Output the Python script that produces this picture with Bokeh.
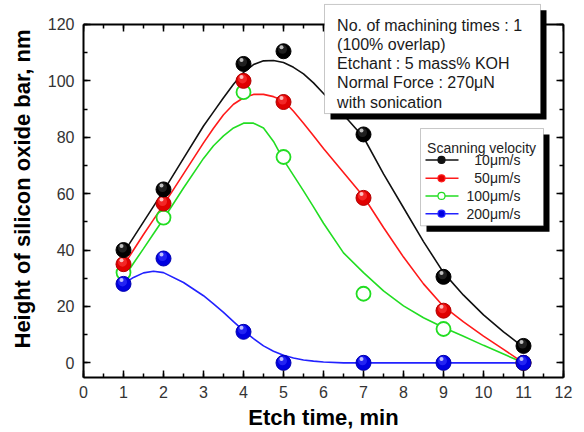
import math
from bokeh.plotting import figure
from bokeh.models import (Range1d, LinearAxis, FixedTicker, BoxAnnotation, Label,
                          ColumnDataSource)
from bokeh.transform import dodge
from bokeh.embed import file_html
from bokeh.resources import INLINE

# ---------------- data ----------------
etch_time = [1, 2, 4, 5, 7, 9, 11]
h_10 = [40, 61.5, 106, 110.5, 81, 30.5, 6]
h_50 = [35, 56.5, 100, 92.5, 58.5, 18.5, 0]
h_100 = [32, 51.5, 96, 73, 24.5, 12, 0]
h_200 = [28, 37, 11, 0, 0, 0, 0]

# fitted curves
fit_x = [1, 1.25, 1.5, 1.75, 2, 2.5, 3, 3.25, 3.5, 3.75, 4, 4.25, 4.5, 4.75, 5, 5.25, 5.5,
         5.75, 6, 6.5, 7, 7.5, 8, 8.5, 9, 9.5, 10, 10.5, 11]
fit_10 = [39, 44.5, 50, 55.5, 61, 72.5, 84, 89, 94, 98.8, 103, 105.8, 107.1, 107.2, 106.5,
          104.8, 102.5, 99.3, 95.5, 88, 80, 67, 55, 43, 32, 24, 17, 11, 5.5]
fit_50 = [34.5, 40, 45.5, 50.8, 56, 67, 78, 83.2, 88, 91.7, 94, 95.2, 95.2, 94.4, 93,
          89.2, 85, 80.5, 76, 67.5, 59, 48, 37.5, 28, 20, 14.5, 9.5, 4.8, 0]
fit_100 = [30, 35.3, 40.5, 45.8, 51, 62, 72.5, 77, 80.5, 83.3, 85, 85, 83.3, 78.5, 72,
           66.5, 61, 55.3, 49.5, 39, 32, 25.5, 20.2, 16, 12.5, 9.4, 6.2, 3.1, 0]
fit_200 = [28, 30.3, 31.9, 32.5, 32, 28.5, 23.8, 20.9, 17.9, 14.6, 11.4, 8.6, 6, 4.1, 2.7,
           1.7, 1, 0.6, 0.3, 0, 0, 0, 0, 0, 0, 0, 0, 0, 0]

x_ticks = list(range(0, 13))
y_ticks = [0, 20, 40, 60, 80, 100, 120]
x_minor = [i * 0.5 for i in range(0, 25)]
y_minor = list(range(0, 121, 10))

series_labels = ["10\u03bcm/s", "50\u03bcm/s", "100\u03bcm/s", "200\u03bcm/s"]
info_lines = ["No. of machining times : 1", "(100% overlap)", "Etchant : 5 mass% KOH",
              "Normal Force : 270\u03bcN", "with sonication"]

FONT = "Liberation Sans"
Y_LOW, Y_TOP_FRAME = -5.2, 128.5

p = figure(width=584, height=432, output_backend="svg", toolbar_location=None,
           x_range=Range1d(x_ticks[0], x_ticks[-1]), y_range=Range1d(Y_LOW, Y_TOP_FRAME),
           min_border_left=83, min_border_right=21, min_border_top=0, min_border_bottom=55)
p.background_fill_color = "white"
p.border_fill_color = "white"
p.xgrid.visible = False
p.ygrid.visible = False
p.outline_line_color = None


def style_axis(ax, ticks, minor, show_labels=True):
    ax.ticker = FixedTicker(ticks=ticks, minor_ticks=minor)
    ax.major_tick_in = 7
    ax.major_tick_out = 0
    ax.minor_tick_in = 4
    ax.minor_tick_out = 0
    ax.major_tick_line_width = 1.5
    ax.minor_tick_line_width = 1.5
    ax.axis_line_width = 2
    ax.axis_line_color = "black"
    ax.major_tick_line_color = "black"
    ax.minor_tick_line_color = "black"
    if show_labels:
        ax.major_label_text_font = FONT
        ax.major_label_text_font_size = "16px"
        ax.major_label_text_color = "#333333"
        ax.axis_label_text_font = FONT
        ax.axis_label_text_font_size = "22px"
        ax.axis_label_text_font_style = "bold"
        ax.axis_label_text_color = "black"
    else:
        ax.major_label_text_color = None
        ax.major_label_text_font_size = "1px"
        ax.major_label_standoff = 0


style_axis(p.xaxis[0], x_ticks, x_minor)
style_axis(p.yaxis[0], y_ticks, y_minor)
p.yaxis[0].bounds = (Y_LOW, y_ticks[-1])
p.xaxis[0].axis_label = "Etch time, min"
p.yaxis[0].axis_label = "Height of silicon oxide bar, nm"
p.xaxis[0].major_label_standoff = 8
p.yaxis[0].major_label_standoff = 9
p.xaxis[0].axis_label_standoff = 4
p.yaxis[0].axis_label_standoff = 10

right_ax = LinearAxis()
style_axis(right_ax, y_ticks, y_minor, False)
right_ax.bounds = (Y_LOW, y_ticks[-1])
p.add_layout(right_ax, "right")

# top edge of the frame at y = 120 with inward ticks
p.segment(x0=[x_ticks[0]], y0=[y_ticks[-1]], x1=[x_ticks[-1]], y1=[y_ticks[-1]],
          line_color="black", line_width=2)
p.ray(x=x_ticks, y=[y_ticks[-1]] * len(x_ticks), length=7, length_units="screen",
      angle=-math.pi / 2, line_color="black", line_width=1.5)
p.ray(x=x_minor, y=[y_ticks[-1]] * len(x_minor), length=4, length_units="screen",
      angle=-math.pi / 2, line_color="black", line_width=1.5)

# ---------------- fitted curves ----------------
p.line(fit_x, fit_100, line_color="#22dd22", line_width=1.6)
p.line(fit_x, fit_50, line_color="#ff1a1a", line_width=1.6)
p.line(fit_x, fit_10, line_color="#111111", line_width=1.6)
p.line(fit_x, fit_200, line_color="#2222ff", line_width=1.6)


# ---------------- points ----------------
def balls(ys, color, edge, mid, hi):
    src = ColumnDataSource(dict(x=etch_time, y=ys))
    p.scatter("x", "y", source=src, size=15, fill_color=color, line_color=edge, line_width=1)
    p.scatter(dodge("x", -0.025), dodge("y", 0.7), source=src, size=9,
              fill_color=mid, line_color=None, alpha=0.6)
    p.scatter(dodge("x", -0.05), dodge("y", 1.4), source=src, size=4,
              fill_color=hi, line_color=None, alpha=0.9)


src_g = ColumnDataSource(dict(x=etch_time, y=h_100))
p.scatter("x", "y", source=src_g, size=14, fill_color="white", line_color="#22dd22", line_width=1.8)
balls(h_50, "#e00000", "#b00000", "#ff4040", "#ffd0d0")
balls(h_10, "#000000", "#000000", "#333333", "#d0d0d0")
balls(h_200, "#0000e0", "#0000b0", "#3a3aff", "#d0d0ff")

# ---------------- legend (drawn) ----------------
leg_left, leg_right, leg_top, leg_bottom = 8.425, 11.5, 83.1, 48.6
p.add_layout(BoxAnnotation(left=leg_left + 0.15, right=leg_right + 0.15, top=leg_top - 2.1,
                           bottom=leg_bottom - 2.1, fill_color="black", fill_alpha=1,
                           line_color=None))
p.add_layout(BoxAnnotation(left=leg_left, right=leg_right, top=leg_top, bottom=leg_bottom,
                           fill_color="white", fill_alpha=1, line_color="#444444",
                           line_width=1))
p.add_layout(Label(x=8.59, y=76.2, text="Scanning velocity", text_font=FONT,
                   text_font_size="14px", text_color="#222222", text_baseline="alphabetic",
                   level="overlay"))
leg_y = [71.96, 65.43, 59.18, 52.89]
leg_cols = ["#111111", "#ff1a1a", "#22dd22", "#2222ff"]
leg_fill = ["#111111", "#e00000", "white", "#0000e0"]
for yy, col, fc, lab in zip(leg_y, leg_cols, leg_fill, series_labels):
    seg = p.segment(x0=[8.55], y0=[yy], x1=[9.375], y1=[yy], line_color=col, line_width=1.5)
    seg.level = "overlay"
    mk = p.scatter([8.95], [yy], size=7, fill_color=fc, line_color=col, line_width=1.2)
    mk.level = "overlay"
    p.add_layout(Label(x=10.925, y=yy, text=lab, text_font=FONT, text_font_size="14px",
                       text_color="#222222", text_align="right", text_baseline="middle",
                       level="overlay"))

# ---------------- info box ----------------
box_l, box_r, box_t, box_b = 6.025, 11.425, 127.1, 88.4
p.add_layout(BoxAnnotation(left=box_l + 0.15, right=box_r + 0.15, top=box_t - 2.1,
                           bottom=box_b - 2.1, fill_color="black", fill_alpha=1,
                           line_color=None))
p.add_layout(BoxAnnotation(left=box_l, right=box_r, top=box_t, bottom=box_b,
                           fill_color="white", fill_alpha=1, line_color="#444444",
                           line_width=1))
for yy, txt in zip([119.8, 113.0, 106.2, 99.3, 92.5], info_lines):
    p.add_layout(Label(x=6.34, y=yy, text=txt, text_font=FONT, text_font_size="16px",
                       text_color="#1a1a1a", text_baseline="alphabetic", level="overlay"))

open("out.html", "w").write(file_html(p, INLINE))
